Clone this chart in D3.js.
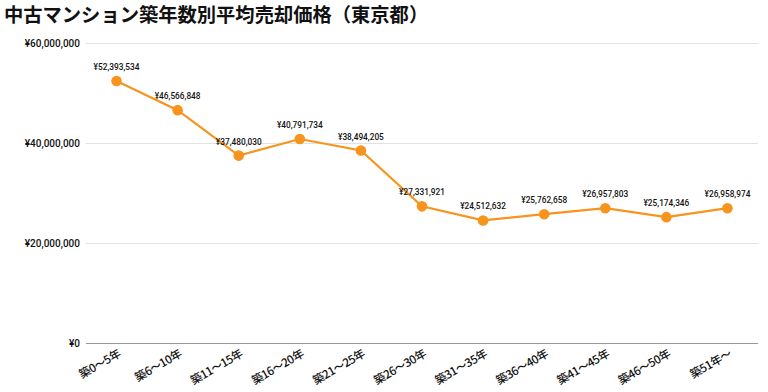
<!DOCTYPE html>
<html><head><meta charset="utf-8">
<script src="https://cdn.jsdelivr.net/npm/d3@7"></script>
<style>body{margin:0;background:#fff;font-family:"Noto Sans CJK JP","Noto Sans",sans-serif;}</style>
</head><body><svg id="c" width="768" height="392"></svg>
<script>
const categories = ["築0～5年","築6～10年","築11～15年","築16～20年","築21～25年","築26～30年","築31～35年","築36～40年","築41～45年","築46～50年","築51年～"];
const values = [52393534,46566848,37480030,40791734,38494205,27331921,24512632,25762658,26957803,25174346,26958974];
const yTicks = [0,20000000,40000000,60000000];
const title = "中古マンション築年数別平均売却価格（東京都）";

const svg = d3.select("#c");
const m = {l:86, r:10, t:43, b:49};
const W = 768, H = 392;
const x = d3.scaleBand().domain(categories).range([m.l, W-m.r]);
const y = d3.scaleLinear().domain([0,60000000]).range([H-m.b, m.t]);
const fmt = v => "¥" + d3.format(",")(v);

svg.append("text").attr("x",4).attr("y",22).attr("font-size",19.3).attr("font-weight","bold")
  .attr("fill","#111").text(title);

// grid
const gy = svg.append("g").attr("transform",`translate(${m.l},0)`)
  .call(d3.axisLeft(y).tickValues(yTicks).tickFormat(fmt).tickSize(-(W-m.l-m.r)).tickPadding(6));
gy.select(".domain").remove();
gy.selectAll(".tick line").attr("stroke", d => d===0 ? "#999" : "#e2e2e2").attr("stroke-width",1);
gy.selectAll(".tick text").attr("font-size",10).attr("fill","#111").attr("font-weight",500)
  .attr("font-family","Roboto, 'Noto Sans CJK JP', sans-serif");

// x axis
const gx = svg.append("g").attr("transform",`translate(0,${H-m.b})`)
  .call(d3.axisBottom(x).tickSize(0).tickPadding(0));
gx.select(".domain").remove();
gx.selectAll(".tick text").attr("font-size",11.5).attr("fill","#111").attr("font-weight",500)
  .attr("font-family","'Noto Sans CJK JP', sans-serif").attr("letter-spacing",-0.4)
  .attr("text-anchor","end").attr("dy",0)
  .attr("transform","translate(5,13) rotate(-30)");

const cx = d => x(d) + x.bandwidth()/2;
const line = d3.line().x((d,i)=>cx(categories[i])).y(d=>y(d));
svg.append("path").datum(values).attr("d",line).attr("fill","none")
  .attr("stroke","#f7941d").attr("stroke-width",2.2);
svg.selectAll("circle.p").data(values).join("circle").attr("class","p")
  .attr("cx",(d,i)=>cx(categories[i])).attr("cy",d=>y(d)).attr("r",5.3).attr("fill","#f7941d");
svg.selectAll("text.v").data(values).join("text").attr("class","v")
  .attr("x",(d,i)=>cx(categories[i])).attr("y",d=>y(d)-11)
  .attr("text-anchor","middle").attr("font-size",8.3).attr("fill","#111").attr("font-weight",500)
  .attr("font-family","Roboto, sans-serif").text(fmt);
</script></body></html>
